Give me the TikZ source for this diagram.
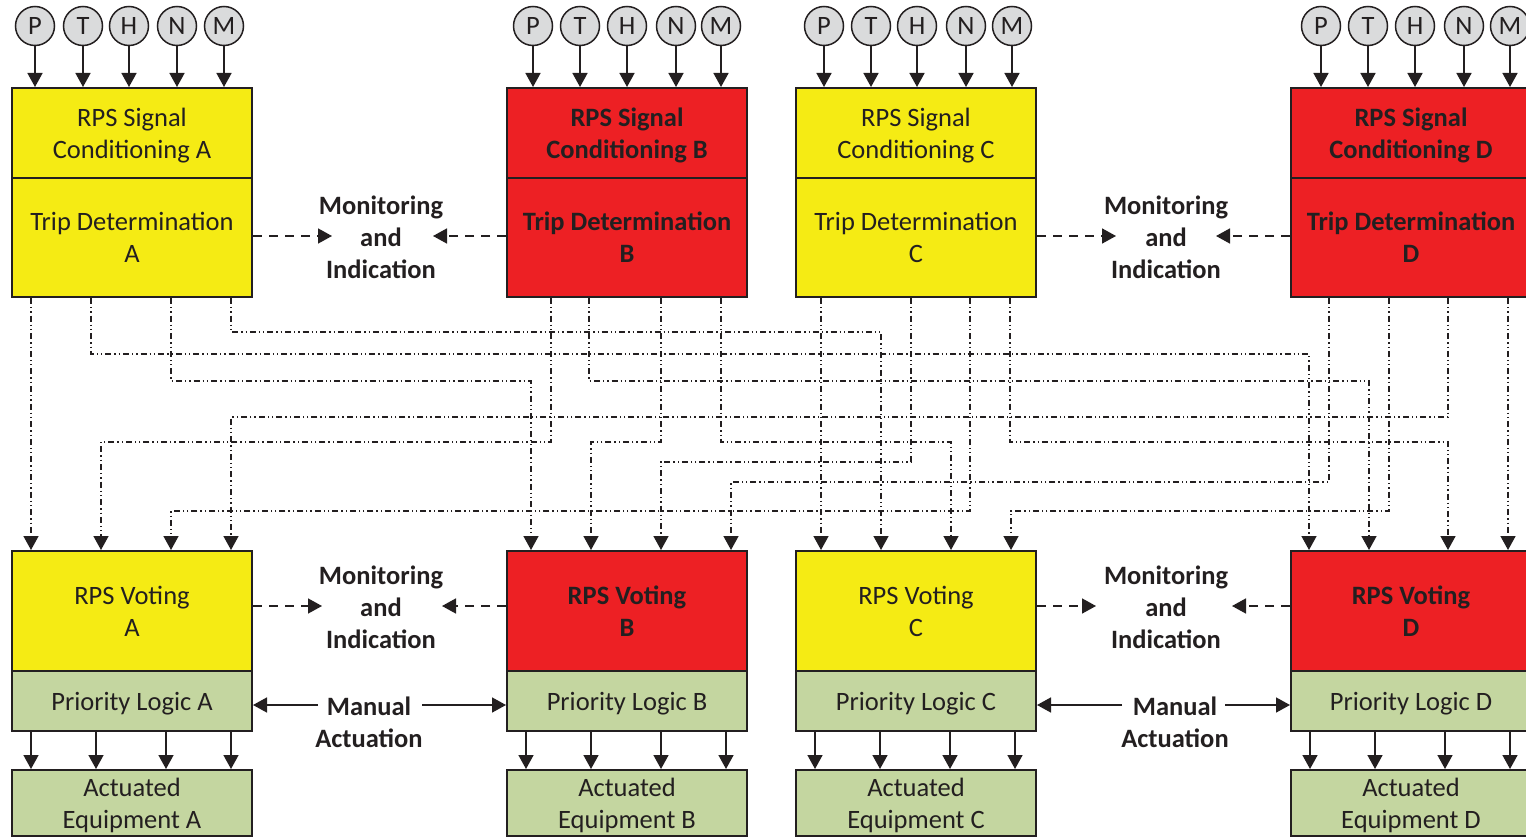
\documentclass[tikz,border=0pt]{standalone}
\usepackage{fontspec}
\setmainfont{Carlito}
\usetikzlibrary{arrows.meta,calc}
\definecolor{ink}{HTML}{231F20}
\definecolor{divyellow}{HTML}{F5EB14}
\definecolor{divred}{HTML}{ED2024}
\definecolor{logicgreen}{HTML}{C4D6A0}
\definecolor{sensorgray}{HTML}{DADBDC}

% One protection division: sensor circles, signal conditioning, trip
% determination, voting, priority logic and actuated equipment.
% #1 letter, #2 left edge, #3 box style, #4 sensor offsets
\newcommand\division[4]{%
  \foreach \l/\o in {#4} {
    \node[sensor] (#1\l) at (#2+\o,26) {\l};
  }
  \node[#3, minimum height=90pt]  (sc#1) at (#2+120,133)   {RPS Signal\\Conditioning #1};
  \node[#3, minimum height=119pt] (td#1) at (#2+120,237.5) {Trip Determination\\#1};
  \node[#3, minimum height=120pt] (vt#1) at (#2+120,611)   {RPS Voting\\#1};
  \node[greenbox, minimum height=60pt] (pl#1) at (#2+120,701) {Priority Logic #1};
  \node[greenbox, minimum height=66pt] (ae#1) at (#2+120,803) {Actuated\\Equipment #1};
  \foreach \l/\o in {#4} {
    \draw[feed] (#1\l) -- (#1\l |- sc#1.north);
  }
  \foreach \o in {20,85,155,220} {
    \draw[feed] ($(pl#1.south west)+(\o,0)$) -- ($(ae#1.north west)+(\o,0)$);
  }
}

% Trip signal from a trip determination output to a voting input,
% routed along a horizontal level.
% #1 source node, #2 source offset, #3 level, #4 target node, #5 target offset
\newcommand\route[5]{%
  \coordinate (rs) at ($(#1.south west)+(#2,0)$);
  \coordinate (rd) at ($(#4.north west)+(#5,0)$);
  \coordinate (rl) at (0,#3);
  \draw[sig] (rs) -- (rs |- rl) -- (rd |- rl) -- (rd);
}
\newcommand\direct[4]{%
  \draw[sig] ($(#1.south west)+(#2,0)$) -- ($(#3.north west)+(#4,0)$);
}

\begin{document}
\begin{tikzpicture}[x=1pt,y=-1pt,
  txt/.style={font=\fontsize{26.5}{32}\selectfont},
  part/.style={draw=ink, line width=2pt, minimum width=240pt, inner sep=0pt,
    align=center, text=ink, txt, text depth=0pt},
  yellowbox/.style={part, fill=divyellow},
  redbox/.style={part, fill=divred, font=\fontsize{26.5}{32}\selectfont\bfseries},
  greenbox/.style={part, fill=logicgreen},
  sensor/.style={circle, draw=ink, fill=sensorgray, line width=1.5pt,
    minimum size=39pt, inner sep=0pt, text=ink, txt},
  tip/.style={-{Triangle[length=14pt,width=15pt]}},
  feed/.style={draw=ink, line width=1.6pt, tip},
  sig/.style={draw=ink, line width=1.5pt, tip,
    dash pattern=on 6pt off 3pt on 1.3pt off 3pt on 1.3pt off 3pt},
  mon/.style={draw=ink, line width=1.6pt, tip, dash pattern=on 9pt off 7pt},
  man/.style={draw=ink, line width=1.6pt, tip},
  caption/.style={align=center, text=ink, text depth=0pt,
    font=\fontsize{26.5}{32}\selectfont\bfseries},
]
\useasboundingbox (0,0) rectangle (1526,837);

\division{A}{12}{yellowbox}{P/23,T/71,H/117,N/165,M/212}
\division{B}{507}{redbox}{P/26,T/73,H/120,N/169,M/214}
\division{C}{796}{yellowbox}{P/28,T/75,H/121,N/170,M/216}
\division{D}{1291}{redbox}{P/30,T/77,H/124,N/173,M/219}

% signal routing between divisions
\direct{tdA}{20}{vtA}{20}
\route{tdA}{80}{354}{vtD}{19}
\route{tdA}{160}{381}{vtB}{25}
\route{tdA}{220}{332}{vtC}{86}
\route{tdB}{45}{442}{vtA}{90}
\route{tdB}{83}{381}{vtD}{79}
\route{tdB}{155}{442}{vtB}{85}
\route{tdB}{215}{442}{vtC}{156}
\direct{tdC}{26}{vtC}{26}
\route{tdC}{116}{462}{vtB}{155}
\route{tdC}{175}{511}{vtA}{160}
\route{tdC}{215}{442}{vtD}{158}
\route{tdD}{39}{482}{vtB}{225}
\route{tdD}{99}{511}{vtC}{216}
\route{tdD}{158}{417}{vtA}{220}
\direct{tdD}{218}{vtD}{218}

% monitoring and indication
\node[caption] (miTop1) at (381,237) {Monitoring\\and\\Indication};
\node[caption] (miTop2) at (1166,237) {Monitoring\\and\\Indication};
\node[caption] (miBot1) at (381,607) {Monitoring\\and\\Indication};
\node[caption] (miBot2) at (1166,607) {Monitoring\\and\\Indication};
\coordinate (t1l) at (332,236);  \coordinate (t1r) at (433,236);
\coordinate (t2l) at (1116,236); \coordinate (t2r) at (1216,236);
\coordinate (b1l) at (322,606);  \coordinate (b1r) at (442,606);
\coordinate (b2l) at (1096,606); \coordinate (b2r) at (1232,606);
\draw[mon] (tdA.east |- t1l) -- (t1l);
\draw[mon] (tdB.west |- t1r) -- (t1r);
\draw[mon] (tdC.east |- t2l) -- (t2l);
\draw[mon] (tdD.west |- t2r) -- (t2r);
\draw[mon] (vtA.east |- b1l) -- (b1l);
\draw[mon] (vtB.west |- b1r) -- (b1r);
\draw[mon] (vtC.east |- b2l) -- (b2l);
\draw[mon] (vtD.west |- b2r) -- (b2r);

% manual actuation
\node[caption] (ma1) at (369,722) {Manual\\Actuation};
\node[caption] (ma2) at (1175,722) {Manual\\Actuation};
\coordinate (m1l) at (318,705);  \coordinate (m1r) at (422,705);
\coordinate (m2l) at (1122,705); \coordinate (m2r) at (1225,705);
\draw[man] (m1l) -- (plA.east |- m1l);
\draw[man] (m1r) -- (plB.west |- m1r);
\draw[man] (m2l) -- (plC.east |- m2l);
\draw[man] (m2r) -- (plD.west |- m2r);
\end{tikzpicture}
\end{document}
